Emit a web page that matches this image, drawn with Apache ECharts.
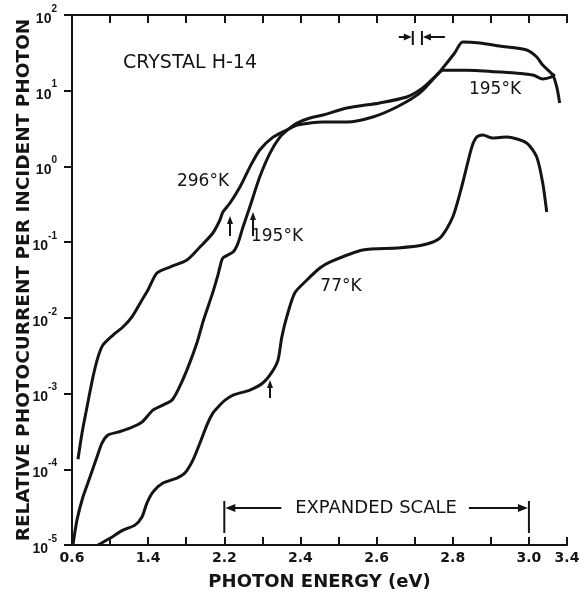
<!DOCTYPE html>
<html><head><meta charset="utf-8">
<script src="https://cdn.jsdelivr.net/npm/echarts@6/dist/echarts.min.js"></script>
<style>html,body{margin:0;padding:0;background:#fff}#c{width:580px;height:594px}</style>
</head><body><div id="c"></div>
<script>
// Tick energies (eV) – equally spaced on the drawing (expanded scale 2.2–3.0)
const xTickEnergies = [0.6, 1.0, 1.4, 1.8, 2.2, 2.3, 2.4, 2.5, 2.6, 2.7, 2.8, 2.9, 3.0, 3.4];
const xTickLabels   = ['0.6', '', '1.4', '', '2.2', '', '2.4', '', '2.6', '', '2.8', '', '3.0', '3.4'];
const yTickValues   = [1e-5, 1e-4, 1e-3, 1e-2, 1e-1, 1e0, 1e1, 1e2];

// 296 K
const e296 = [0.663,0.705,0.757,0.820,0.873,0.925,1.031,1.135,1.230,1.335,1.398,1.492,1.629,1.807,1.944,2.080,2.154,2.185,2.215,2.241,2.267,2.293,2.328,2.364,2.391,2.425,2.459,2.522,2.590,2.653,2.713,2.758,2.774,2.805,2.826,2.871,2.923,2.994,3.082,3.145,3.250,3.292,3.323];
const v296 = [1.36e-4,3.0e-4,6.6e-4,1.65e-3,3.03e-3,4.38e-3,5.93e-3,7.57e-3,1.03e-2,1.72e-2,2.33e-2,3.91e-2,4.69e-2,5.81e-2,8.61e-2,0.132,0.196,0.250,0.329,0.535,0.98,1.65,2.44,3.03,3.52,3.74,3.86,3.86,4.5,6.1,9.3,16.1,20,31.5,44,42.7,38.9,34.5,27.9,21.8,16.1,11.2,6.9];

// 195 K
const e195 = [0.610,0.652,0.715,0.789,0.862,0.915,0.978,1.083,1.209,1.335,1.450,1.555,1.650,1.713,1.807,1.912,1.975,2.017,2.080,2.133,2.154,2.185,2.223,2.236,2.249,2.267,2.293,2.320,2.346,2.372,2.391,2.425,2.459,2.522,2.608,2.679,2.721,2.758,2.774,2.837,2.923,3.040,3.145,3.239,3.271];
const v195 = [1.0e-5,2.13e-5,4.3e-5,7.89e-5,1.45e-4,2.22e-4,2.83e-4,3.1e-4,3.5e-4,4.2e-4,6.05e-4,7.05e-4,8.2e-4,1.11e-3,2.04e-3,4.65e-3,8.8e-3,1.27e-2,2.19e-2,3.67e-2,4.69e-2,6.17e-2,7.4e-2,9.7e-2,0.158,0.291,0.724,1.5,2.44,3.21,3.74,4.36,4.78,5.9,6.9,8.26,10.9,16.1,18.7,18.7,17.7,16.1,14.3,15.2,16.6];

// 77 K
const e77 = [0.873,0.999,1.135,1.261,1.335,1.387,1.450,1.555,1.702,1.786,1.870,1.944,2.017,2.080,2.154,2.202,2.223,2.267,2.301,2.325,2.341,2.351,2.364,2.385,2.417,2.451,2.477,2.564,2.653,2.721,2.766,2.800,2.826,2.850,2.863,2.879,2.905,2.942,2.994,3.082,3.145,3.187];
const v77 = [1.0e-5,1.23e-5,1.57e-5,1.83e-5,2.34e-5,3.58e-5,5.0e-5,6.58e-5,7.66e-5,8.91e-5,1.32e-4,2.22e-4,3.84e-4,5.52e-4,7.05e-4,8.2e-4,9.55e-4,1.11e-3,1.38e-3,1.92e-3,2.77e-3,5.57e-3,1.03e-2,2.13e-2,3.16e-2,4.55e-2,5.46e-2,7.87e-2,8.36e-2,9.16e-2,0.113,0.215,0.604,1.80,2.44,2.60,2.37,2.44,2.04,1.33,0.604,0.25];

// piecewise energy scale: position = fractional index among the equally spaced ticks
function pos(E) {
  const t = xTickEnergies;
  for (let i = 0; i < t.length - 1; i++) {
    if (E <= t[i + 1] || i === t.length - 2) return i + (E - t[i]) / (t[i + 1] - t[i]);
  }
}
const pts = (es, vs) => es.map((e, i) => [pos(e), vs[i]]);

const INK = '#141414';
const FONT = 'DejaVu Sans';
const chart = echarts.init(document.getElementById('c'), null, {renderer: 'canvas'});

const lineSeries = (name, es, vs) => ({
  name, type: 'line', data: pts(es, vs), showSymbol: false, smooth: 0.25,
  lineStyle: {color: INK, width: 3}, itemStyle: {color: INK}, clip: true, z: 3
});

const xBase = {
  type: 'value', min: 0, max: xTickEnergies.length - 1, interval: 1,
  splitLine: {show: false},
  axisLine: {show: true, lineStyle: {color: INK, width: 2}},
  axisTick: {show: true, inside: true, length: 8, lineStyle: {color: INK, width: 2}}
};
const yBase = {
  type: 'log', logBase: 10, min: yTickValues[0], max: yTickValues[yTickValues.length - 1],
  splitNumber: yTickValues.length - 1,
  splitLine: {show: false},
  axisLine: {show: true, lineStyle: {color: INK, width: 2}}
};

chart.setOption({
  animation: false,
  backgroundColor: '#fff',
  grid: {left: 72, right: 13, top: 15, bottom: 49, containLabel: false, outerBoundsMode: 'none'},
  xAxis: [
    Object.assign({}, xBase, {
      position: 'bottom',
      name: 'PHOTON ENERGY (eV)', nameLocation: 'middle', nameGap: 28, nameMoveOverlap: false,
      nameTextStyle: {fontFamily: FONT, fontWeight: 'bold', fontSize: 18, color: INK},
      axisLabel: {
        show: true, margin: 6, color: INK, fontFamily: FONT, fontWeight: 'bold', fontSize: 14,
        formatter: v => xTickLabels[Math.round(v)] || ''
      }
    }),
    Object.assign({}, xBase, {position: 'top', axisLabel: {show: false}})
  ],
  yAxis: [
    Object.assign({}, yBase, {
      position: 'left',
      name: 'RELATIVE PHOTOCURRENT PER INCIDENT PHOTON', nameLocation: 'middle', nameGap: 38, nameRotate: 90,
      nameMoveOverlap: false,
      nameTextStyle: {fontFamily: FONT, fontWeight: 'bold', fontSize: 18.5, color: INK},
      axisTick: {show: true, inside: false, length: 7, lineStyle: {color: INK, width: 2}},
      axisLabel: {
        show: true, margin: 15,
        formatter: v => '{b|10}{s|' + Math.round(Math.log10(v)) + '}',
        rich: {
          b: {fontFamily: 'Liberation Sans', fontWeight: 'bold', fontSize: 14, color: INK, lineHeight: 22, verticalAlign: 'bottom'},
          s: {fontFamily: 'Liberation Sans', fontWeight: 'bold', fontSize: 10, color: INK, lineHeight: 12, verticalAlign: 'top'}
        }
      }
    }),
    Object.assign({}, yBase, {
      position: 'right',
      axisTick: {show: true, inside: true, length: 8, lineStyle: {color: INK, width: 2}},
      axisLabel: {show: false}
    })
  ],
  series: [
    lineSeries('296°K', e296, v296),
    lineSeries('195°K', e195, v195),
    lineSeries('77°K', e77, v77)
  ]
});

// ---------- annotations ----------
const g = [];
function txt(text, x, y, size, weight) {
  g.push({type: 'text', x, y, z: 10, style: {
    text, font: (weight || 'normal') + ' ' + size + 'px "' + FONT + '"', fill: INK,
    textAlign: 'center', textVerticalAlign: 'middle', align: 'center', verticalAlign: 'middle'}});
}
function seg(x1, y1, x2, y2, w) {
  g.push({type: 'line', z: 10, shape: {x1, y1, x2, y2}, style: {stroke: INK, lineWidth: w || 2}});
}
function arrow(x1, y1, x2, y2, len, hw) {
  len = len || 8; hw = hw || 3.5;
  const dx = x2 - x1, dy = y2 - y1, L = Math.hypot(dx, dy), ux = dx / L, uy = dy / L;
  seg(x1, y1, x2 - ux * len * 0.6, y2 - uy * len * 0.6, 2);
  const bx = x2 - ux * len, by = y2 - uy * len;
  g.push({type: 'polygon', z: 10, shape: {points: [[x2, y2], [bx - uy * hw, by + ux * hw], [bx + uy * hw, by - ux * hw]]},
    style: {fill: INK}});
}

const px = (E) => chart.convertToPixel({xAxisIndex: 0}, pos(E));
const p22 = px(2.2), p30 = px(3.0);

txt('CRYSTAL H-14', 190, 63, 19);
txt('296°K', 203, 182, 17);
txt('195°K', 277, 237, 17);
txt('195°K', 495, 90, 17);
txt('77°K', 341, 287, 17);
txt('EXPANDED SCALE', 376, 508, 18);

// expanded-scale bracket
seg(p22, 501, p22, 533, 2);
seg(p30, 501, p30, 533, 2);
arrow(p22 + 57, 508, p22 + 1, 508, 10, 4);
arrow(p30 - 60, 508, p30 - 1, 508, 10, 4);

// resolution marker near 2.7 eV
const pA = px(2.695), pB = px(2.719);
seg(pA, 31, pA, 45, 2);
seg(pB, 31, pB, 45, 2);
arrow(pA - 14, 37, pA - 1, 37, 8, 3.5);
arrow(pB + 23, 37, pB + 1, 37, 8, 3.5);

// small upward arrows on curves
arrow(230, 236, 230, 216, 8, 3);
arrow(253, 236, 253, 212, 8, 3);
arrow(270, 398, 270, 380, 8, 3);

chart.setOption({graphic: {elements: g}});
</script>
</body></html>
